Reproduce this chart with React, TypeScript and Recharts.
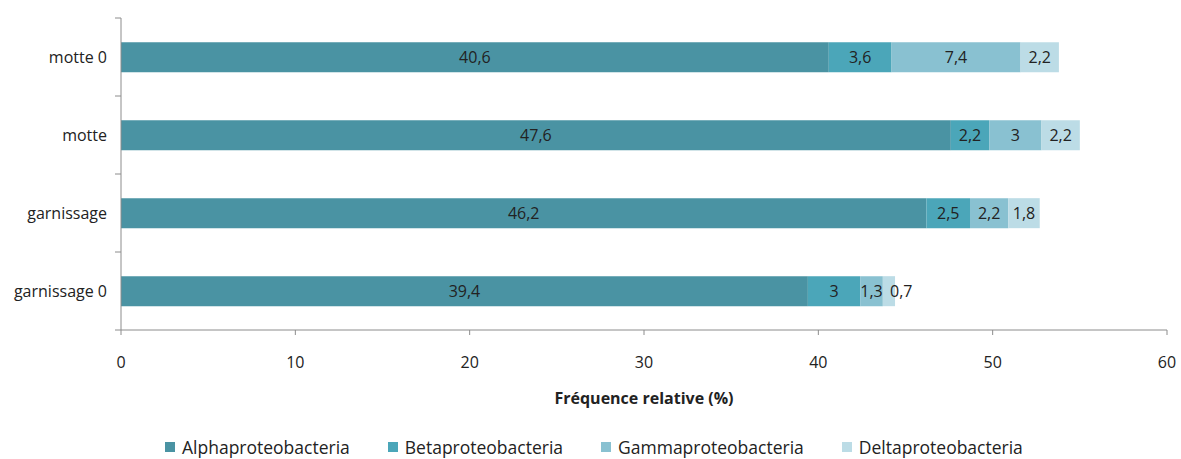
import React from 'react';
import { BarChart, Bar, XAxis, YAxis, Legend, LabelList } from 'recharts';

const categories = ['motte 0', 'motte', 'garnissage', 'garnissage 0'];
const alpha = [40.6, 47.6, 46.2, 39.4];
const beta = [3.6, 2.2, 2.5, 3];
const gamma = [7.4, 3, 2.2, 1.3];
const delta = [2.2, 2.2, 1.8, 0.7];
const xTicks = [0, 10, 20, 30, 40, 50, 60];

const seriesNames = ['Alphaproteobacteria', 'Betaproteobacteria', 'Gammaproteobacteria', 'Deltaproteobacteria'];
const seriesKeys = ['alpha', 'beta', 'gamma', 'delta'];
const colors = ['#4a93a3', '#4ba6b9', '#89c1d1', '#bcdce6'];

const data = categories.map((c, i) => ({
  name: c,
  alpha: alpha[i],
  beta: beta[i],
  gamma: gamma[i],
  delta: delta[i],
}));

const FONT = '"Open Sans", sans-serif';
const FS = 16;
const AXIS = '#8c8c8c';
const TICK_MARGIN = 14;
const fmt = (v: any) => String(v).replace('.', ',');

const CatTick = (props: any) => {
  const { x, y, payload, index, visibleTicksCount } = props;
  const half = payload && payload.offset ? payload.offset : 0;
  const ax = x + TICK_MARGIN;
  return (
    <g>
      <line x1={ax - 6} x2={ax} y1={y - half} y2={y - half} stroke={AXIS} />
      {index === visibleTicksCount - 1 && (
        <line x1={ax - 6} x2={ax} y1={y + half} y2={y + half} stroke={AXIS} />
      )}
      <text x={x} y={y} textAnchor="end" dominantBaseline="central" fill="#222" fontSize={FS} fontFamily={FONT}>
        {payload.value}
      </text>
    </g>
  );
};

const SegLabel = (props: any) => {
  const { x, y, width, height, value } = props;
  const narrow = width < 20;
  return (
    <text
      x={narrow ? x + width - 5 : x + width / 2}
      y={y + height / 2}
      textAnchor={narrow ? 'start' : 'middle'}
      dominantBaseline="central"
      fill="#222"
      fontSize={FS}
      fontFamily={FONT}
    >
      {fmt(value)}
    </text>
  );
};

const LegendContent = () => (
  <div style={{ display: 'flex', justifyContent: 'flex-start', paddingLeft: 165, paddingTop: 2, fontFamily: FONT, fontSize: 17.5, lineHeight: '20px', color: '#222' }}>
    {seriesNames.map((n, i) => (
      <div key={n} style={{ display: 'flex', alignItems: 'center', marginRight: 38 }}>
        <span style={{ display: 'inline-block', width: 10, height: 10, background: colors[i], marginRight: 7 }} />
        <span>{n}</span>
      </div>
    ))}
  </div>
);

export default function App() {
  return (
    <div style={{ position: 'absolute', left: 0, top: 0, width: 1181, height: 459, background: '#fff' }}>
      <BarChart
        width={1181}
        height={459}
        data={data}
        layout="vertical"
        margin={{ top: 18, right: 14, left: 0, bottom: 0 }}
        barCategoryGap="31%"
      >
        <YAxis
          type="category"
          dataKey="name"
          width={121}
          axisLine={{ stroke: AXIS }}
          tickLine={false}
          tickSize={0}
          tickMargin={TICK_MARGIN}
          tick={<CatTick />}
        />
        <XAxis
          type="number"
          domain={[0, 60]}
          ticks={xTicks}
          height={105}
          axisLine={{ stroke: AXIS }}
          tickLine={{ stroke: AXIS }}
          tickSize={5}
          tickMargin={22}
          tick={{ fill: '#222', fontSize: FS, fontFamily: FONT }}
          label={{
            value: 'Fréquence relative (%)',
            position: 'insideBottom',
            offset: 31,
            style: { fill: '#222', fontSize: FS, fontWeight: 'bold', fontFamily: FONT },
          }}
        />
        <Legend verticalAlign="bottom" height={24} content={<LegendContent />} />
        {seriesKeys.map((k, i) => (
          <Bar key={k} dataKey={k} name={seriesNames[i]} stackId="s" fill={colors[i]} isAnimationActive={false}>
            <LabelList dataKey={k} content={<SegLabel />} />
          </Bar>
        ))}
      </BarChart>
    </div>
  );
}
